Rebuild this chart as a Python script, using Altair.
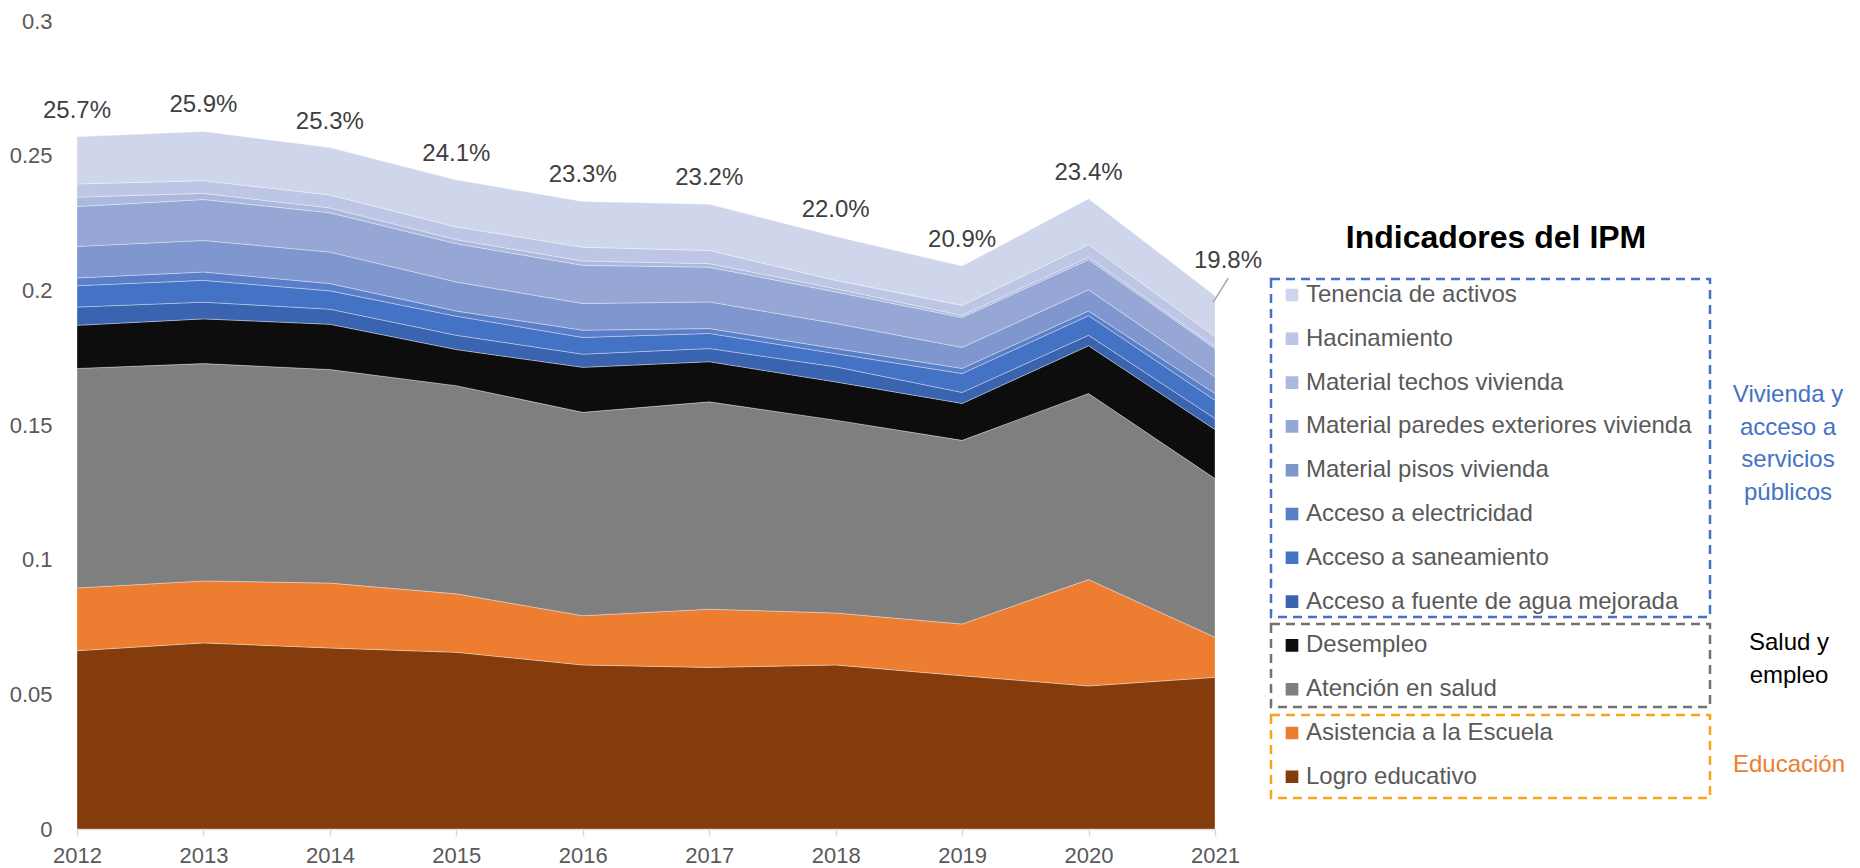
import altair as alt
import pandas as pd

years = [2012, 2013, 2014, 2015, 2016, 2017, 2018, 2019, 2020, 2021]

# Stack order: bottom -> top
stack_names = [
    "Logro educativo",
    "Asistencia a la Escuela",
    "Atención en salud",
    "Desempleo",
    "Acceso a fuente de agua mejorada",
    "Acceso a saneamiento",
    "Acceso a electricidad",
    "Material pisos vivienda",
    "Material paredes exteriores vivienda",
    "Material techos vivienda",
    "Hacinamiento",
    "Tenencia de activos",
]

logro = [0.0662, 0.0691, 0.0672, 0.0656, 0.0609, 0.0600, 0.0609, 0.0569, 0.0531, 0.0563]
asistencia = [0.0233, 0.0230, 0.0241, 0.0217, 0.0183, 0.0216, 0.0193, 0.0192, 0.0395, 0.0149]
salud = [0.0815, 0.0807, 0.0793, 0.0773, 0.0755, 0.0770, 0.0716, 0.0682, 0.0691, 0.0589]
desempleo = [0.0160, 0.0166, 0.0168, 0.0134, 0.0167, 0.0149, 0.0142, 0.0137, 0.0177, 0.0182]
agua = [0.0068, 0.0062, 0.0056, 0.0053, 0.0049, 0.0049, 0.0056, 0.0041, 0.0039, 0.0041]
saneamiento = [0.0079, 0.0081, 0.0068, 0.0071, 0.0062, 0.0056, 0.0049, 0.0070, 0.0073, 0.0068]
electricidad = [0.0029, 0.0031, 0.0027, 0.0019, 0.0027, 0.0018, 0.0019, 0.0019, 0.0017, 0.0025]
pisos = [0.0117, 0.0117, 0.0117, 0.0108, 0.0099, 0.0099, 0.0093, 0.0078, 0.0079, 0.0062]
paredes = [0.0148, 0.0152, 0.0146, 0.0142, 0.0142, 0.0129, 0.0117, 0.0111, 0.0112, 0.0105]
techos = [0.0035, 0.0023, 0.0018, 0.0015, 0.0016, 0.0013, 0.0012, 0.0008, 0.0009, 0.0007]
hacinamiento = [0.0049, 0.0047, 0.0048, 0.0047, 0.0051, 0.0049, 0.0031, 0.0037, 0.0047, 0.0037]
tenencia = [0.0175, 0.0183, 0.0176, 0.0175, 0.0170, 0.0172, 0.0163, 0.0146, 0.0170, 0.0152]

totals = [0.257, 0.259, 0.253, 0.241, 0.233, 0.232, 0.220, 0.209, 0.234, 0.198]

series = [logro, asistencia, salud, desempleo, agua, saneamiento, electricidad,
          pisos, paredes, techos, hacinamiento, tenencia]

colors_bottom_up = ["#843C0C", "#ED7D31", "#7F7F7F", "#0D0D0D", "#3A64B0", "#4472C4",
                    "#5A7FC9", "#7F96CE", "#96A7D5", "#ACB9DE", "#BDC6E4", "#CFD5EA"]

y_ticks = [0, 0.05, 0.1, 0.15, 0.2, 0.25, 0.3]

rows = []
for idx, (name, vals) in enumerate(zip(stack_names, series)):
    for yr, v in zip(years, vals):
        rows.append({"year": yr, "indicador": name, "value": v, "stack_idx": idx})
df = pd.DataFrame(rows)
df_tot = pd.DataFrame({"year": years, "total": totals})

legend_order = list(reversed(stack_names))
legend_colors = list(reversed(colors_bottom_up))

FONT = "Liberation Sans"

x_scale = alt.Scale(domain=[2012, 2021], nice=False, zero=False)
y_scale = alt.Scale(domain=[0, 0.3], nice=False)

x_enc = alt.X(
    "year:Q", scale=x_scale,
    axis=alt.Axis(
        title=None, values=years, format="d", grid=False, domain=True,
        domainColor="#D9D9D9", domainWidth=1.5, tickColor="#D9D9D9", tickSize=7, tickWidth=1.5,
        labelFont=FONT, labelFontSize=22, labelColor="#595959", labelPadding=9,
        labelFlush=False, labelOverlap=False,
    ),
)

area = alt.Chart(df).mark_area(
    interpolate="linear", stroke="#FFFFFF", strokeWidth=0.6, strokeOpacity=0.55
).encode(
    x=x_enc,
    y=alt.Y(
        "value:Q", stack="zero", scale=y_scale,
        axis=alt.Axis(
            title=None, values=y_ticks, format=".2~f", grid=False, domain=False, ticks=False,
            labelFont=FONT, labelFontSize=22, labelColor="#595959", labelPadding=25,
        ),
    ),
    color=alt.Color(
        "indicador:N",
        scale=alt.Scale(domain=legend_order, range=legend_colors),
        legend=alt.Legend(
            orient="none", legendX=1203, legendY=262, title=None,
            labelFont=FONT, labelFontSize=24, labelColor="#595959", labelLimit=1000,
            symbolType="square", symbolSize=160, symbolStrokeWidth=0,
            rowPadding=19.8, clipHeight=24, labelOffset=2, padding=0,
        ),
    ),
    order=alt.Order("stack_idx:Q", sort="ascending"),
)

labels_main = alt.Chart(df_tot).transform_filter("datum.year < 2021").mark_text(
    font=FONT, fontSize=24, color="#404040", dy=-26, baseline="middle", align="center"
).encode(
    x=alt.X("year:Q", scale=x_scale),
    y=alt.Y("total:Q", scale=y_scale),
    text=alt.Text("total:Q", format=".1%"),
)

label_last = alt.Chart(df_tot).transform_filter("datum.year == 2021").mark_text(
    font=FONT, fontSize=24, color="#404040", dx=13, dy=-35, baseline="middle", align="center"
).encode(
    x=alt.X("year:Q", scale=x_scale),
    y=alt.Y("total:Q", scale=y_scale),
    text=alt.Text("total:Q", format=".1%"),
)

leader = alt.Chart(df_tot).transform_filter("datum.year == 2021").transform_calculate(
    lx1="datum.year - 0.015", ly1="datum.total - 0.0025",
    lx2="datum.year + 0.105", ly2="datum.total + 0.0065",
).mark_rule(color="#A6A6A6", strokeWidth=1.5).encode(
    x=alt.X("lx1:Q", scale=x_scale),
    y=alt.Y("ly1:Q", scale=y_scale),
    x2=alt.X2("lx2"), y2=alt.Y2("ly2"),
)

one = pd.DataFrame({"k": [0]})

title_txt = alt.Chart(one).mark_text(
    font=FONT, fontSize=32, fontWeight="bold", color="#000000", align="center", baseline="middle"
).encode(x=alt.value(1419), y=alt.value(217), text=alt.value("Indicadores del IPM"))

grp_viv = alt.Chart(one).mark_text(
    font=FONT, fontSize=24, color="#4472C4", align="center", baseline="middle", lineHeight=32.5
).encode(x=alt.value(1711), y=alt.value(374),
         text=alt.value(["Vivienda y", "acceso a", "servicios", "públicos"]))

grp_sal = alt.Chart(one).mark_text(
    font=FONT, fontSize=24, color="#000000", align="center", baseline="middle", lineHeight=32.5
).encode(x=alt.value(1712), y=alt.value(622), text=alt.value(["Salud y", "empleo"]))

grp_edu = alt.Chart(one).mark_text(
    font=FONT, fontSize=24, color="#ED7D31", align="center", baseline="middle"
).encode(x=alt.value(1712), y=alt.value(744), text=alt.value("Educación"))

box_blue = alt.Chart(one).mark_rect(
    fillOpacity=0, stroke="#4472C4", strokeWidth=2.5, strokeDash=[9, 6]
).encode(x=alt.value(1194), x2=alt.value(1633), y=alt.value(258), y2=alt.value(596))

box_gray = alt.Chart(one).mark_rect(
    fillOpacity=0, stroke="#767171", strokeWidth=2.5, strokeDash=[9, 6]
).encode(x=alt.value(1194), x2=alt.value(1633), y=alt.value(603), y2=alt.value(686))

box_orange = alt.Chart(one).mark_rect(
    fillOpacity=0, stroke="#F8A51C", strokeWidth=2.5, strokeDash=[9, 6]
).encode(x=alt.value(1194), x2=alt.value(1633), y=alt.value(694), y2=alt.value(777))

chart = alt.layer(
    area, labels_main, label_last, leader, title_txt, grp_viv, grp_sal, grp_edu,
    box_blue, box_gray, box_orange,
).properties(
    width=1138, height=808,
    background="#FFFFFF",
    padding={"left": 69, "top": 13, "right": 630, "bottom": 38},
    autosize=alt.AutoSizeParams(type="none"),
).configure_view(
    strokeWidth=0, stroke="transparent"
).configure_axis(grid=False)

chart.save("out.html", embed_options={"renderer": "svg", "actions": False})
